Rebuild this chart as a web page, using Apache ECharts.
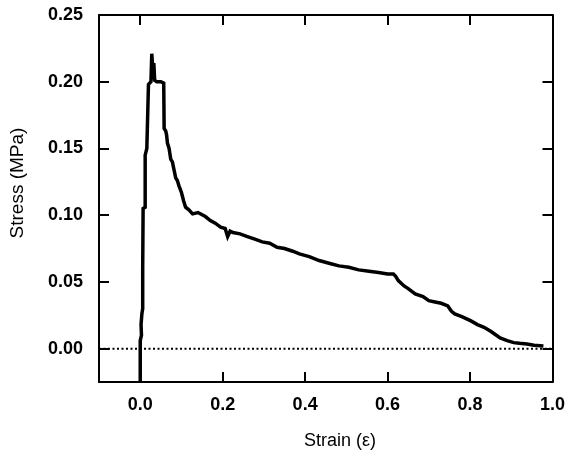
<!DOCTYPE html>
<html>
<head>
<meta charset="utf-8">
<script src="https://cdn.jsdelivr.net/npm/echarts@6/dist/echarts.min.js"></script>
<style>html,body{margin:0;padding:0;background:#fff;}#c{width:568px;height:461px;}</style>
</head>
<body>
<div id="c"></div>
<script>
const strain = [0.000, 0.000, 0.003, 0.002, 0.004, 0.006, 0.006, 0.007, 0.012, 0.012, 0.014, 0.016, 0.020, 0.020, 0.026, 0.028, 0.030, 0.031, 0.033, 0.035, 0.040, 0.050, 0.057, 0.058, 0.062, 0.064, 0.066, 0.070, 0.072, 0.074, 0.078, 0.082, 0.086, 0.090, 0.094, 0.100, 0.105, 0.110, 0.118, 0.127, 0.140, 0.158, 0.170, 0.182, 0.195, 0.206, 0.212, 0.218, 0.225, 0.242, 0.260, 0.278, 0.296, 0.314, 0.332, 0.350, 0.370, 0.386, 0.410, 0.434, 0.458, 0.482, 0.506, 0.530, 0.555, 0.578, 0.600, 0.614, 0.620, 0.626, 0.640, 0.650, 0.667, 0.686, 0.700, 0.715, 0.730, 0.746, 0.755, 0.763, 0.780, 0.801, 0.818, 0.834, 0.850, 0.873, 0.890, 0.906, 0.920, 0.938, 0.955, 0.978];
const stress = [-0.025, 0.006, 0.010, 0.018, 0.026, 0.030, 0.060, 0.105, 0.106, 0.145, 0.146, 0.150, 0.198, 0.199, 0.200, 0.221, 0.212, 0.206, 0.214, 0.201, 0.200, 0.200, 0.199, 0.165, 0.163, 0.160, 0.154, 0.150, 0.146, 0.142, 0.140, 0.134, 0.128, 0.126, 0.122, 0.117, 0.111, 0.106, 0.104, 0.101, 0.102, 0.099, 0.096, 0.094, 0.091, 0.090, 0.084, 0.088, 0.087, 0.086, 0.084, 0.082, 0.080, 0.079, 0.076, 0.075, 0.073, 0.071, 0.069, 0.066, 0.064, 0.062, 0.061, 0.059, 0.058, 0.057, 0.056, 0.056, 0.054, 0.051, 0.047, 0.045, 0.041, 0.039, 0.036, 0.035, 0.034, 0.032, 0.028, 0.026, 0.024, 0.021, 0.018, 0.016, 0.013, 0.008, 0.006, 0.0045, 0.004, 0.0035, 0.0025, 0.002];
const zeroLineX = [-0.1, 1.0];
const zeroLineY = [0, 0];
const xTicks = [0.0, 0.2, 0.4, 0.6, 0.8, 1.0];
const yTicks = [0.00, 0.05, 0.10, 0.15, 0.20, 0.25];
const xTitle = 'Strain (ε)';
const yTitle = 'Stress (MPa)';

const FONT = '"Liberation Sans", Arial, Helvetica, sans-serif';
const chart = echarts.init(document.getElementById('c'), null, {renderer: 'canvas'});

function xAxisCfg(pos, showLabel) {
  return {
    type: 'value', position: pos, min: -0.1, max: 1.0,
    axisLine: {show: true, onZero: false, lineStyle: {color: '#000', width: 2}},
    axisTick: {show: true, inside: true, length: 10, lineStyle: {color: '#000', width: 2}, customValues: xTicks},
    axisLabel: {show: showLabel, customValues: xTicks, formatter: v => v.toFixed(1), color: '#000',
      fontFamily: FONT, fontWeight: 'bold', fontSize: 18, margin: 14},
    splitLine: {show: false}
  };
}
function yAxisCfg(pos, showLabel) {
  return {
    type: 'value', position: pos, min: -0.025, max: 0.25,
    axisLine: {show: true, onZero: false, lineStyle: {color: '#000', width: 2}},
    axisTick: {show: true, inside: true, length: 10, lineStyle: {color: '#000', width: 2}, customValues: yTicks},
    axisLabel: {show: showLabel, customValues: yTicks, formatter: v => v.toFixed(2), color: '#000',
      fontFamily: FONT, fontWeight: 'bold', fontSize: 18, margin: 16},
    splitLine: {show: false}
  };
}

chart.setOption({
  animation: false,
  grid: {left: 99, right: 12, top: 15, bottom: 79, containLabel: false},
  xAxis: [xAxisCfg('bottom', true), xAxisCfg('top', false)],
  yAxis: [yAxisCfg('left', true), yAxisCfg('right', false)],
  graphic: [
    {type: 'text', x: 18, y: 183, rotation: Math.PI / 2,
      style: {text: yTitle, fill: '#000', font: '19px ' + FONT, align: 'center', verticalAlign: 'middle'}},
    {type: 'text', x: 340, y: 441,
      style: {text: xTitle, fill: '#000', font: '18px ' + FONT, align: 'center', verticalAlign: 'middle'}}
  ],
  series: [
    {type: 'line', xAxisIndex: 0, yAxisIndex: 0, symbol: 'none', silent: true,
      data: zeroLineX.map((x, i) => [x, zeroLineY[i]]),
      lineStyle: {color: '#000', width: 2, type: [2, 2.5]}},
    {type: 'line', xAxisIndex: 0, yAxisIndex: 0, symbol: 'none', silent: true,
      data: strain.map((x, i) => [x, stress[i]]),
      lineStyle: {color: '#000', width: 3.5, join: 'miter'}}
  ]
});
</script>
</body>
</html>
